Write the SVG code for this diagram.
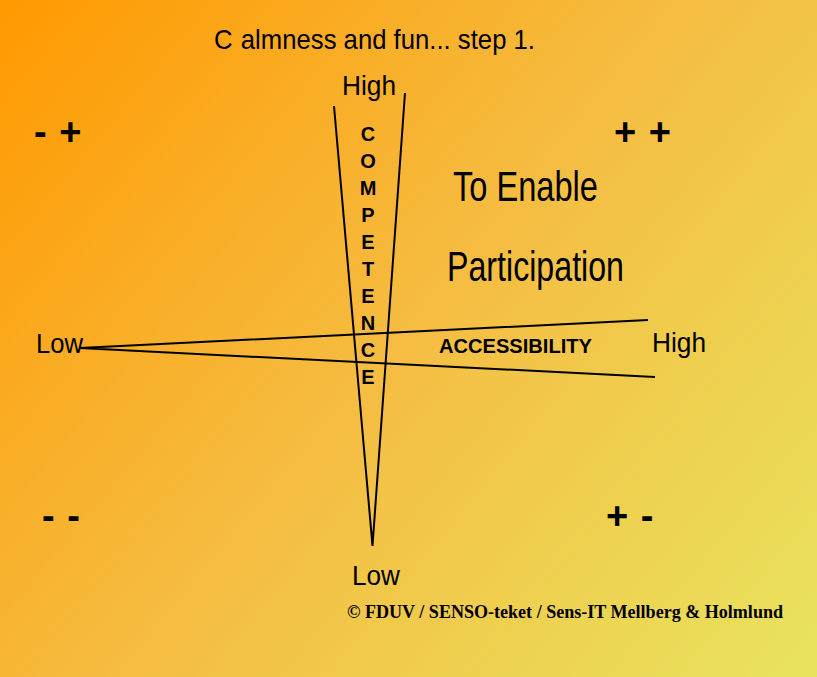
<svg xmlns="http://www.w3.org/2000/svg" width="817" height="677" viewBox="0 0 817 677">
<defs>
<linearGradient id="bg" gradientUnits="userSpaceOnUse" x1="0" y1="0" x2="817" y2="677">
<stop offset="0" stop-color="#FF9900"/>
<stop offset="0.5" stop-color="#F5BD42"/>
<stop offset="1" stop-color="#E8E45E"/>
</linearGradient>
<style>
text{font-family:"Liberation Sans",Arial,sans-serif;fill:#000}
.lbl{font-size:27px}
.big{font-size:42px}
.bold{font-weight:bold;font-size:20px}
.sign{font-weight:bold;font-size:38px}
.copy{font-family:"Liberation Serif","Times New Roman",serif;font-weight:bold;font-size:19px}
.ax{fill:none;stroke:#000;stroke-width:2;stroke-linejoin:miter}
</style>
</defs>
<rect x="0" y="0" width="817" height="677" fill="url(#bg)"/>
<g id="connectors">
<polyline class="ax" points="334,106 372.5,546 405,93"/>
<polyline class="ax" points="648,320 80,348 655,377"/>
</g>
<g id="title"><text x="214" y="49" style="font-size:28px" textLength="321" lengthAdjust="spacingAndGlyphs">C<tspan dx="9">almness and fun... step 1.</tspan></text></g>
<g id="competence-high"><text class="lbl" x="342" y="95" textLength="54" lengthAdjust="spacingAndGlyphs">High</text></g>
<g id="competence-low"><text class="lbl" x="352" y="585" textLength="48" lengthAdjust="spacingAndGlyphs">Low</text></g>
<g id="accessibility-low"><text class="lbl" x="36" y="353" textLength="47" lengthAdjust="spacingAndGlyphs">Low</text></g>
<g id="accessibility-high"><text class="lbl" x="652" y="352" textLength="54" lengthAdjust="spacingAndGlyphs">High</text></g>
<g id="competence-label"><text class="bold" text-anchor="middle"><tspan x="368" y="141">C</tspan><tspan x="368" y="168">O</tspan><tspan x="368" y="195">M</tspan><tspan x="368" y="222">P</tspan><tspan x="368" y="249">E</tspan><tspan x="368" y="276">T</tspan><tspan x="368" y="303">E</tspan><tspan x="368" y="330">N</tspan><tspan x="368" y="357">C</tspan><tspan x="368" y="384">E</tspan></text></g>
<g id="accessibility-label"><text class="bold" x="439" y="353" textLength="153" lengthAdjust="spacingAndGlyphs">ACCESSIBILITY</text></g>
<g id="goal"><text class="big" x="453" y="201" textLength="145" lengthAdjust="spacingAndGlyphs">To Enable</text><text class="big" x="447" y="281" textLength="177" lengthAdjust="spacingAndGlyphs">Participation</text></g>
<g id="q-top-left"><text class="sign" x="34" y="145" letter-spacing="1">- +</text></g>
<g id="q-top-right"><text class="sign" x="614" y="145" letter-spacing="1">+ +</text></g>
<g id="q-bottom-left"><text class="sign" x="42" y="529" letter-spacing="1">- -</text></g>
<g id="q-bottom-right"><text class="sign" x="606" y="529" letter-spacing="1">+ -</text></g>
<g id="copyright"><text class="copy" x="347" y="618" textLength="436" lengthAdjust="spacingAndGlyphs">© FDUV / SENSO-teket / Sens-IT Mellberg &amp; Holmlund</text></g>
</svg>
